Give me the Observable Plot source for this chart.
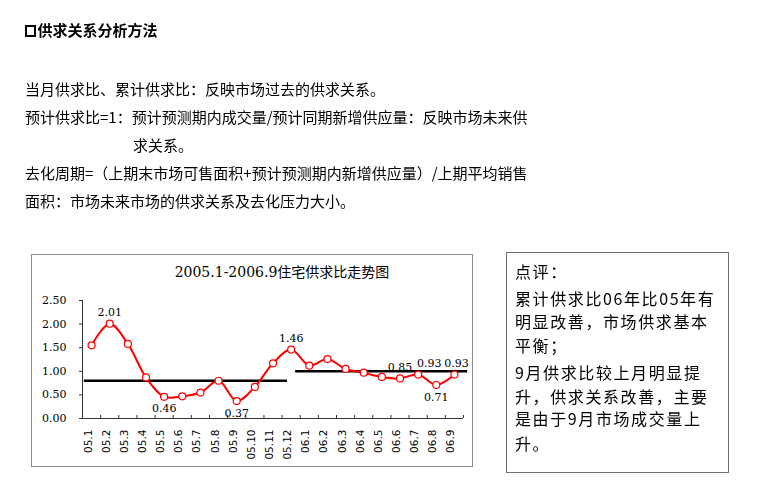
<!DOCTYPE html>
<html><head><meta charset="utf-8">
<script src="https://cdn.jsdelivr.net/npm/d3@7"></script>
<script src="https://cdn.jsdelivr.net/npm/@observablehq/plot@0.6"></script>
<style>
html,body{margin:0;padding:0;background:#fff;}
#page{position:relative;width:760px;height:490px;overflow:hidden;font-family:"Noto Sans CJK SC",sans-serif;color:#000;}
.ln{position:absolute;white-space:nowrap;line-height:20px;filter:grayscale(100%);}
.body{font-size:15px;left:25px;}
.note{font-size:16px;left:515px;letter-spacing:1.6px;}
.sq{display:inline-block;width:7px;height:8px;border:2.5px solid #000;margin-right:1.5px;vertical-align:-1px;}
#frame{position:absolute;left:31px;top:254px;width:442px;height:213px;box-sizing:border-box;border:1px solid #8a8a8a;}
#note{position:absolute;left:506px;top:252px;width:223px;height:221px;box-sizing:border-box;border:1px solid #707070;}
#ctitle{position:absolute;top:262px;left:282px;transform:translateX(-50%);font-family:"DejaVu Serif","Noto Sans CJK SC",serif;font-size:14px;line-height:20px;white-space:nowrap;}
#chart{position:absolute;left:31px;top:254px;}
</style></head>
<body><div id="page">
<div class="ln" style="left:25px;top:20px;font-size:15px;font-weight:700;"><span class="sq"></span>供求关系分析方法</div>
<div class="ln body" style="top:79px;">当月供求比、累计供求比：反映市场过去的供求关系。</div>
<div class="ln body" style="top:107px;">预计供求比=1：预计预测期内成交量/预计同期新增供应量：反映市场未来供</div>
<div class="ln body" style="top:135px;left:133px;">求关系。</div>
<div class="ln body" style="top:163px;">去化周期=（上期末市场可售面积+预计预测期内新增供应量）/上期平均销售</div>
<div class="ln body" style="top:191px;">面积：市场未来市场的供求关系及去化压力大小。</div>
<div id="frame"></div>
<div id="ctitle">2005.1-2006.9住宅供求比走势图</div>
<div id="chart"></div>
<div id="note"></div>
<div class="ln note" style="top:261px;">点评：</div>
<div class="ln note" style="top:288px;">累计供求比06年比05年有</div>
<div class="ln note" style="top:311px;">明显改善，市场供求基本</div>
<div class="ln note" style="top:335px;">平衡；</div>
<div class="ln note" style="top:362px;">9月供求比较上月明显提</div>
<div class="ln note" style="top:386px;">升，供求关系改善，主要</div>
<div class="ln note" style="top:408px;">是由于9月市场成交量上</div>
<div class="ln note" style="top:433px;">升。</div>
</div>
<script>
const months = ["05.1","05.2","05.3","05.4","05.5","05.6","05.7","05.8","05.9","05.10","05.11","05.12",
                "06.1","06.2","06.3","06.4","06.5","06.6","06.7","06.8","06.9"];
const ratio = [1.55,2.01,1.58,0.87,0.46,0.47,0.55,0.80,0.37,0.67,1.17,1.46,
               1.12,1.26,1.05,0.97,0.88,0.85,0.93,0.71,0.93];
const labelAbove = ["05.2","05.12","06.6","06.7","06.9"];
const labelBelow = ["05.5","05.9","06.8"];
const refLevel = [0.80, 1.00];
const refFrom = ["05.1","06.1"];
const refTo = ["05.12","06.9"];
const yTicks = [0,0.5,1,1.5,2,2.5];

const data = months.map((m,i)=>({m, i, v: ratio[i]}));
const idx = m => months.indexOf(m);
const padStart = [0.4, 0.75], padEnd = [-0.2, 0.73];
const refs = refLevel.map((v,k)=>({v, x1: idx(refFrom[k]) - padStart[k], x2: idx(refTo[k]) + padEnd[k]}));
// label nudges (style only, pixels)
const nudgeX = {"06.7": 11, "06.9": 2};
const above = data.filter(d=>labelAbove.includes(d.m));
const below = data.filter(d=>labelBelow.includes(d.m));
const bounds = d3.range(0.5, months.length - 0.5 + 1, 1);

const chart = Plot.plot({
  width: 441, height: 212,
  marginLeft: 51, marginRight: 9, marginTop: 46, marginBottom: 48,
  x: {type: "linear", domain: [-0.5, months.length - 0.5], axis: null},
  y: {domain: [0, 2.5]},
  style: {background: "transparent", fontFamily: "DejaVu Serif", fontSize: "11px", color: "#000", overflow: "visible"},
  marks: [
    Plot.ruleY([0], {stroke: "#333"}),
    Plot.ruleX([-0.5], {stroke: "#333"}),
    Plot.axisY({ticks: yTicks, tickFormat: d => d.toFixed(2), tickSize: 3, tickPadding: 13, label: null,
                fontFamily: "DejaVu Serif", fontSize: 11, stroke: "#333"}),
    Plot.ruleX(bounds, {x: d => d, y1: 0, y2: 0, insetBottom: 3, stroke: "#333"}),
    Plot.text(data, {x: "i", text: "m", frameAnchor: "bottom", rotate: -90, textAnchor: "end", dy: 11,
                     fontFamily: "DejaVu Sans", fontSize: 10.5, fill: "#000"}),
    Plot.ruleY(refs, {y: "v", x1: "x1", x2: "x2", stroke: "#000", strokeWidth: 2.4}),
    Plot.line(data, {x: "i", y: "v", stroke: "#ff0000", strokeWidth: 2, curve: "catmull-rom"}),
    Plot.dot(data, {x: "i", y: "v", r: 3.5, fill: "#fff", stroke: "#ff0000", strokeWidth: 1.2}),
    Plot.text(above, {x: "i", y: "v", text: d => d.v.toFixed(2), dy: -11, fontFamily: "DejaVu Serif", fontSize: 11, fill: "#000",
                      render: (index, scales, values, dims, ctx, next) => {
                        const g = next(index, scales, values, dims, ctx);
                        g.querySelectorAll("text").forEach((t, j) => {
                          const dx = nudgeX[above[index[j]].m] || 0;
                          if (dx) t.setAttribute("dx", dx);
                        });
                        return g;
                      }}),
    Plot.text(below, {x: "i", y: "v", text: d => d.v.toFixed(2), dy: 12, fontFamily: "DejaVu Serif", fontSize: 11, fill: "#000"})
  ]
});
document.getElementById("chart").appendChild(chart);
</script>
</body></html>
